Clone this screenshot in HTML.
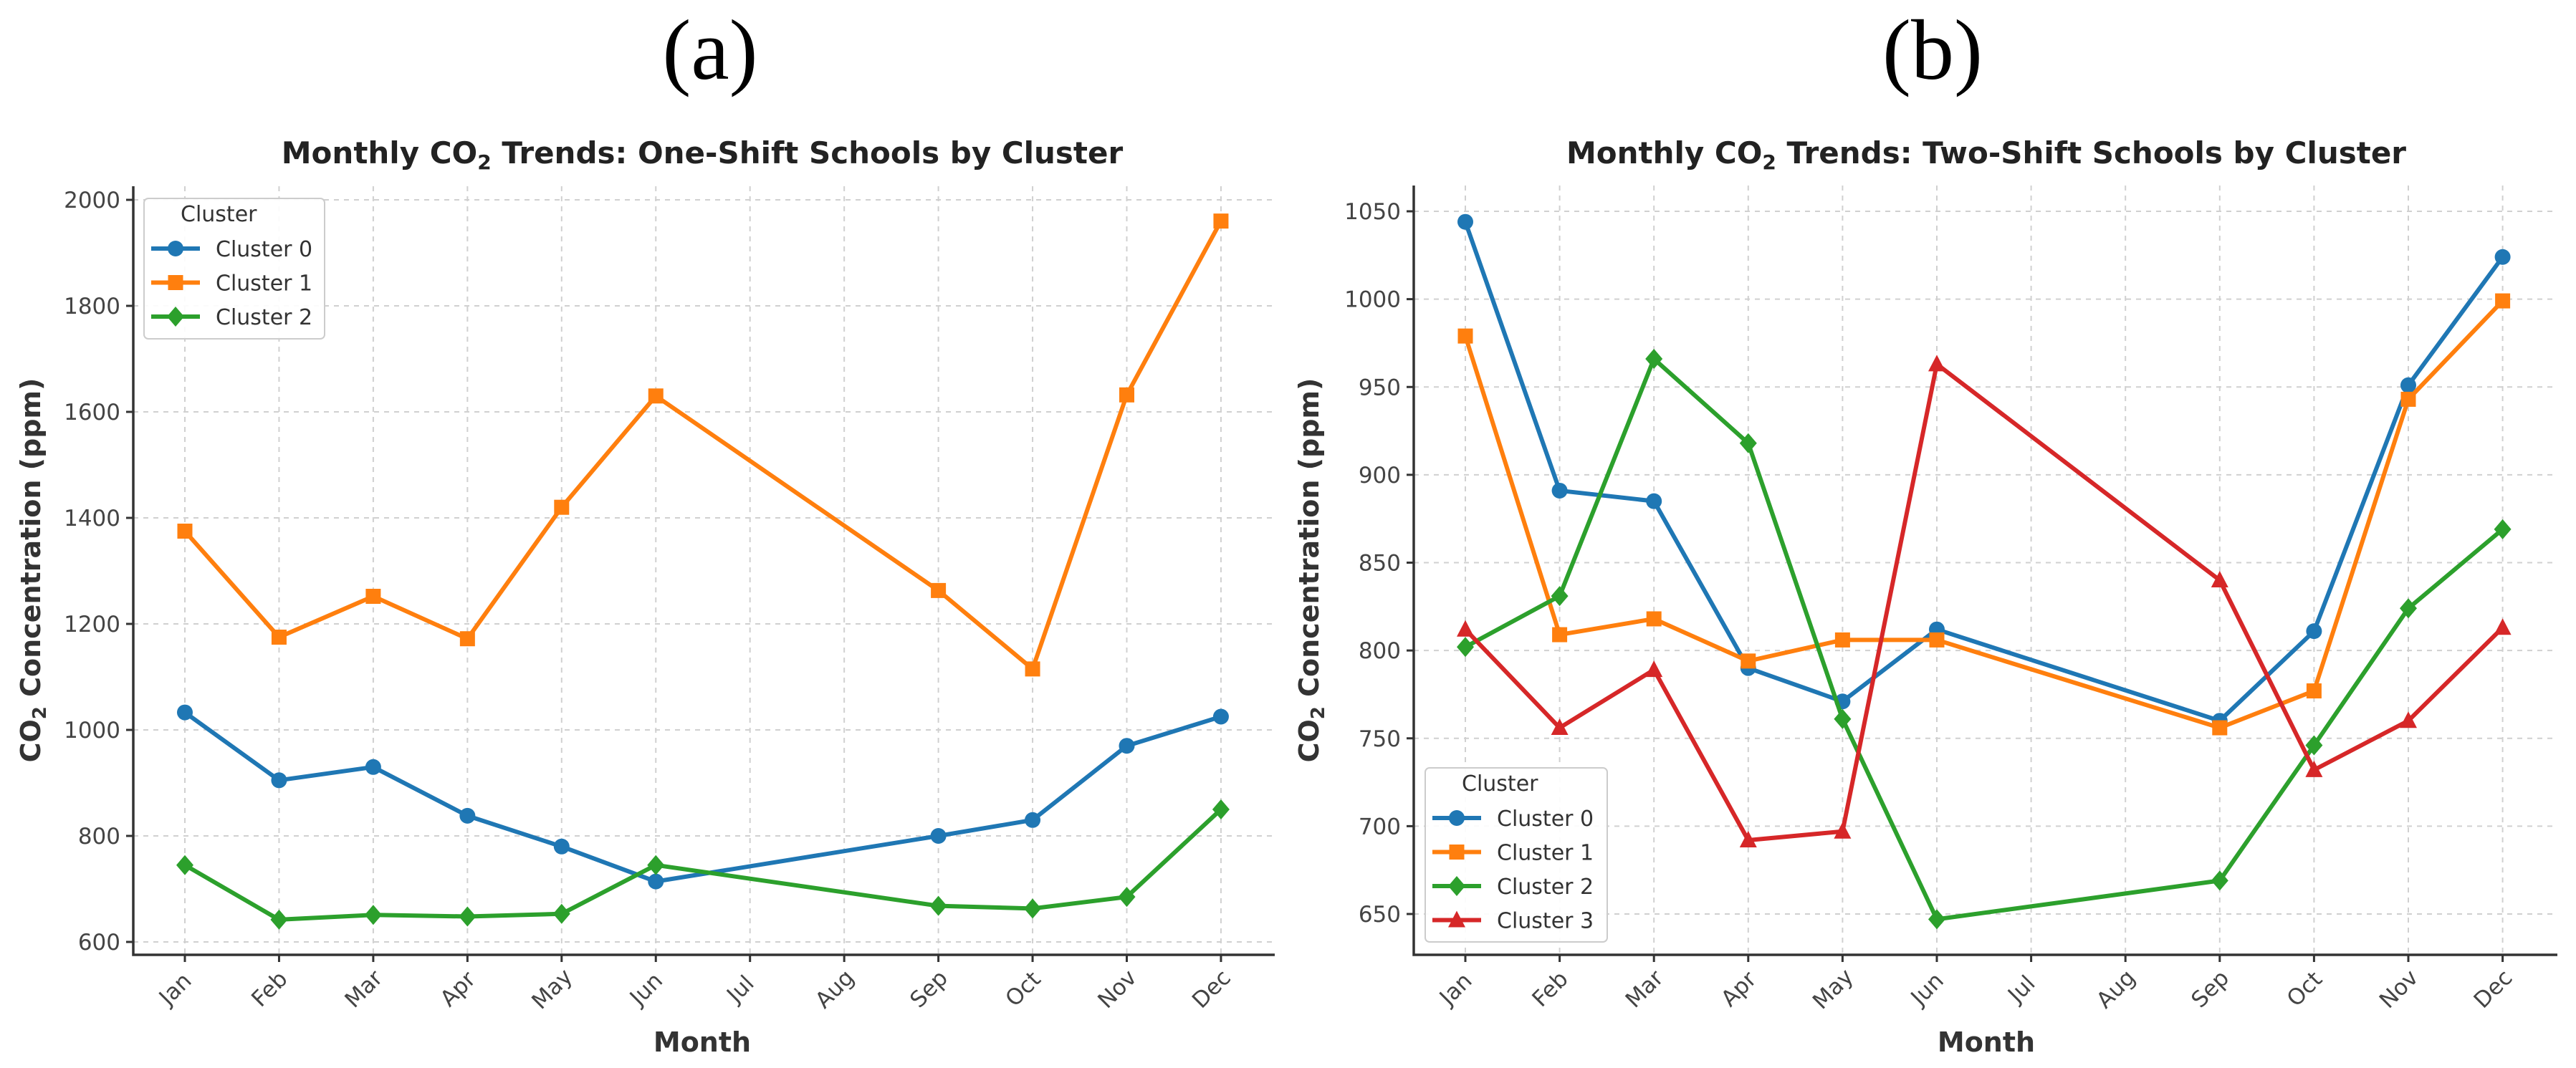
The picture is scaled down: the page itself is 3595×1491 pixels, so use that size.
<!DOCTYPE html>
<html><head><meta charset="utf-8"><style>
html,body{margin:0;padding:0;background:#fff;}
svg{display:block;font-family:"DejaVu Sans","Liberation Sans",sans-serif;}
</style></head><body>
<svg id="fig" width="3595" height="1491" viewBox="0 0 3595 1491" xmlns="http://www.w3.org/2000/svg">
<rect width="3595" height="1491" fill="#fff"/>
<text x="991" y="110" font-family="Liberation Serif, serif" font-size="120" text-anchor="middle" fill="#000">(a)</text>
<text x="2697" y="110" font-family="Liberation Serif, serif" font-size="120" text-anchor="middle" fill="#000">(b)</text>
<g id="pa"></g>
<g id="pb"></g>
</svg>
<script>
const months = ["Jan","Feb","Mar","Apr","May","Jun","Jul","Aug","Sep","Oct","Nov","Dec"];
const seriesNames = ["Cluster 0","Cluster 1","Cluster 2","Cluster 3"];
const colors = ["#1f77b4","#ff7f0e","#2ca02c","#d62728"];
const markers = ["circle","square","diamond","triangle"];
const oneC0 = [1033,905,930,838,780,714,null,null,800,830,970,1025];
const oneC1 = [1375,1175,1252,1172,1420,1630,null,null,1263,1115,1632,1960];
const oneC2 = [745,642,651,648,653,745,null,null,668,663,685,850];
const twoC0 = [1044,891,885,790,771,812,null,null,760,811,951,1024];
const twoC1 = [979,809,818,794,806,806,null,null,756,777,943,999];
const twoC2 = [802,831,966,918,761,647,null,null,669,746,824,869];
const twoC3 = [812,756,789,692,697,963,null,null,840,732,760,813];
const oneTicks = [600,800,1000,1200,1400,1600,1800,2000];
const twoTicks = [650,700,750,800,850,900,950,1000,1050];

const NS="http://www.w3.org/2000/svg";
function mk(tag, attrs, parent){const e=document.createElementNS(NS,tag);for(const k in attrs)e.setAttribute(k,attrs[k]);parent.appendChild(e);return e;}

function marker(g,type,x,y,c){
  let e;
  if(type==="circle") e=mk("circle",{cx:x,cy:y,r:11,fill:c},g);
  else if(type==="square") e=mk("rect",{x:x-10.5,y:y-10.5,width:21,height:21,fill:c},g);
  else if(type==="diamond") e=mk("polygon",{points:`${x},${y-14} ${x+12},${y} ${x},${y+14} ${x-12},${y}`,fill:c},g);
  else e=mk("polygon",{points:`${x},${y-13} ${x+12},${y+10} ${x-12},${y+10}`,fill:c},g);
  return e;
}

function drawPanel(g, cfg){
  const {L,R,T,B,x0,dx,yRef,vRef,ppv,ticks,series,title,titleX,legend} = cfg;
  const X=i=>x0+i*dx, Y=v=>yRef-(v-vRef)*ppv;
  // grid
  months.forEach((m,i)=>{const l=mk("line",{x1:X(i),x2:X(i),y1:T,y2:B,stroke:"#d0d0d0","stroke-width":2,"stroke-dasharray":"7,7"},g);
    
    });
  ticks.forEach(v=>{const l=mk("line",{x1:L,x2:R,y1:Y(v),y2:Y(v),stroke:"#d0d0d0","stroke-width":2,"stroke-dasharray":"7,7"},g);
    
    });
  // spines
  const sp=mk("path",{d:`M${L},${T} V${B} H${R}`,fill:"none",stroke:"#333","stroke-width":3.5},g);
  
  
  // y ticks
  ticks.forEach(v=>{mk("line",{x1:L-10,x2:L,y1:Y(v),y2:Y(v),stroke:"#333","stroke-width":3},g);
    const t=mk("text",{x:L-18,y:Y(v)+11,"text-anchor":"end","font-size":31,fill:"#444"},g);t.textContent=v;
    
    });
  // x ticks
  months.forEach((m,i)=>{mk("line",{x1:X(i),x2:X(i),y1:B,y2:B+10,stroke:"#333","stroke-width":3},g);
    const t=mk("text",{x:0,y:0,"text-anchor":"middle","font-size":31,fill:"#444",transform:`translate(${X(i)-6},${B+55}) rotate(-45)`},g);t.textContent=m;
    
    });
  // series
  series.forEach((vals,s)=>{
    const sg=mk("g",{},g);
    
    
    const pts=[];vals.forEach((v,i)=>{if(v!==null)pts.push([X(i),Y(v)]);});
    mk("polyline",{points:pts.map(p=>p.join(",")).join(" "),fill:"none",stroke:colors[s],"stroke-width":6,"stroke-linejoin":"round"},sg);
    pts.forEach(p=>{const m=marker(sg,markers[s],p[0],p[1],colors[s]);
      
      });
  });
  // title
  const tt=mk("text",{x:titleX,y:228,"text-anchor":"middle","font-size":42,"font-weight":"bold",fill:"#222"},g);
  tt.innerHTML=title;
  
  
  const xl=mk("text",{x:titleX,y:1468,"text-anchor":"middle","font-size":38,"font-weight":"bold",fill:"#333"},g);xl.textContent="Month";
  
  
  const yl=mk("text",{x:0,y:0,"text-anchor":"middle","font-size":38,"font-weight":"bold",fill:"#333",transform:`translate(${cfg.ylx},796) rotate(-90)`},g);
  yl.innerHTML='CO<tspan font-size="26" dy="8">2</tspan><tspan dy="-8"> Concentration (ppm)</tspan>';
  
  
  // legend
  const lg=mk("g",{},g);
  
  
  mk("rect",{x:legend.x,y:legend.y,width:legend.w,height:legend.h,rx:6,fill:"#fff","fill-opacity":0.9,stroke:"#ccc","stroke-width":2},lg);
  const lt=mk("text",{x:legend.x+51,y:legend.y+32,"font-size":30,fill:"#333"},lg);lt.textContent="Cluster";
  
  
  series.forEach((v,s)=>{const yy=legend.y+70+s*47.5;
    mk("line",{x1:legend.x+10,x2:legend.x+78,y1:yy,y2:yy,stroke:colors[s],"stroke-width":6},lg);
    marker(lg,markers[s],legend.x+44,yy,colors[s]);
    const te=mk("text",{x:legend.x+100,y:yy+11,"font-size":30,fill:"#333"},lg);te.textContent=seriesNames[s];
    
    });
}

drawPanel(document.getElementById('pa'),{L:186,R:1779,T:260,B:1333,x0:258,dx:131.45,yRef:1315,vRef:600,ppv:0.74,
  ticks:oneTicks,series:[oneC0,oneC1,oneC2],titleX:980,ylx:56,
  title:'Monthly CO<tspan font-size="28" dy="8">2</tspan><tspan dy="-8"> Trends: One-Shift Schools by Cluster</tspan>',
  legend:{x:201,y:277,w:252,h:196}});
drawPanel(document.getElementById('pb'),{L:1973,R:3569,T:259,B:1333,x0:2045,dx:131.6,yRef:1276,vRef:650,ppv:2.4525,
  ticks:twoTicks,series:[twoC0,twoC1,twoC2,twoC3],titleX:2772,ylx:1840,
  title:'Monthly CO<tspan font-size="28" dy="8">2</tspan><tspan dy="-8"> Trends: Two-Shift Schools by Cluster</tspan>',
  legend:{x:1989,y:1072,w:254,h:243}});
</script>
</body></html>
